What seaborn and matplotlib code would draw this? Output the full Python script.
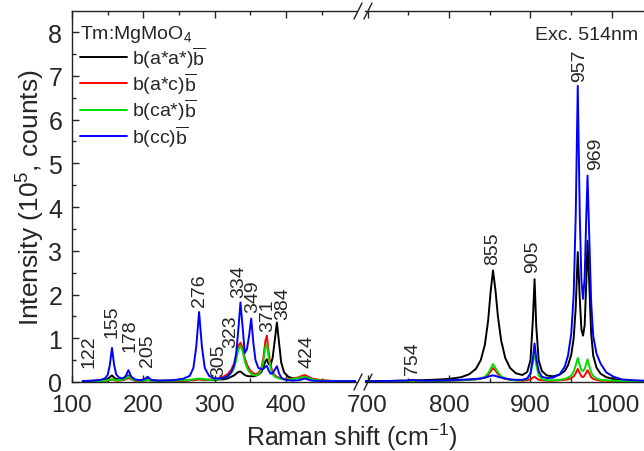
import matplotlib
matplotlib.use("Agg")
import matplotlib.pyplot as plt
import seaborn as sns
from matplotlib.lines import Line2D
from matplotlib.ticker import MultipleLocator

# Espectros Raman de Tm:MgMoO4 (intensidad en 10^5 cuentas)
# Tramo izquierdo 100-500 cm-1
x_izq = [115, 130, 140, 146, 150, 153, 156, 159, 162, 166, 171, 175, 179, 183, 188,
         195, 201, 206, 211, 220, 240, 255, 265, 270, 274, 278, 282, 286, 292, 300,
         306, 312, 318, 323, 327, 330, 333, 336, 339, 342, 345, 348, 351, 354, 357,
         361, 365, 368, 371, 373, 375, 378, 381, 384, 387, 390, 393, 397, 403, 410,
         418, 422, 426, 430, 436, 450, 470, 498]
negro_izq = [0.02, 0.03, 0.04, 0.05, 0.07, 0.11, 0.15, 0.10, 0.07, 0.06, 0.06, 0.10, 0.15, 0.09, 0.05,
             0.04, 0.05, 0.08, 0.04, 0.03, 0.03, 0.03, 0.04, 0.05, 0.06, 0.07, 0.06, 0.05, 0.05, 0.05,
             0.06, 0.06, 0.08, 0.12, 0.15, 0.19, 0.23, 0.24, 0.20, 0.16, 0.14, 0.13, 0.13, 0.13, 0.14,
             0.17, 0.22, 0.33, 0.48, 0.52, 0.42, 0.38, 0.55, 0.95, 1.36, 0.90, 0.45, 0.22, 0.12, 0.08,
             0.09, 0.11, 0.12, 0.10, 0.06, 0.03, 0.02, 0.02]
rojo_izq = [0.01, 0.02, 0.02, 0.03, 0.03, 0.04, 0.06, 0.04, 0.03, 0.03, 0.04, 0.06, 0.09, 0.06, 0.03,
            0.02, 0.03, 0.04, 0.03, 0.02, 0.03, 0.03, 0.04, 0.04, 0.05, 0.06, 0.05, 0.05, 0.05, 0.07,
            0.09, 0.12, 0.18, 0.28, 0.42, 0.60, 0.82, 0.90, 0.78, 0.55, 0.40, 0.30, 0.24, 0.20, 0.18,
            0.20, 0.30, 0.55, 0.95, 1.06, 0.75, 0.40, 0.22, 0.15, 0.12, 0.10, 0.08, 0.07, 0.07, 0.08,
            0.11, 0.14, 0.16, 0.13, 0.08, 0.04, 0.02, 0.02]
verde_izq = [0.01, 0.02, 0.02, 0.03, 0.04, 0.05, 0.07, 0.05, 0.04, 0.04, 0.05, 0.08, 0.13, 0.07, 0.04,
             0.03, 0.03, 0.05, 0.03, 0.02, 0.03, 0.04, 0.05, 0.06, 0.07, 0.08, 0.07, 0.06, 0.05, 0.06,
             0.07, 0.09, 0.13, 0.20, 0.32, 0.50, 0.74, 0.83, 0.70, 0.48, 0.33, 0.24, 0.19, 0.16, 0.15,
             0.17, 0.26, 0.48, 0.80, 0.87, 0.62, 0.33, 0.18, 0.12, 0.10, 0.08, 0.07, 0.06, 0.06, 0.07,
             0.09, 0.11, 0.12, 0.10, 0.06, 0.03, 0.02, 0.02]
azul_izq = [0.02, 0.03, 0.05, 0.08, 0.16, 0.39, 0.78, 0.39, 0.17, 0.10, 0.08, 0.13, 0.27, 0.12, 0.06,
            0.04, 0.06, 0.12, 0.05, 0.03, 0.04, 0.07, 0.14, 0.32, 0.80, 1.60, 0.80, 0.32, 0.14, 0.08,
            0.08, 0.09, 0.13, 0.22, 0.38, 0.66, 1.20, 1.82, 1.25, 0.66, 0.75, 1.05, 1.45, 0.90, 0.50,
            0.32, 0.30, 0.30, 0.35, 0.37, 0.28, 0.19, 0.20, 0.28, 0.36, 0.20, 0.10, 0.06, 0.04, 0.03,
            0.04, 0.06, 0.08, 0.06, 0.03, 0.02, 0.02, 0.02]

# Tramo derecho 700-1040 cm-1
x_der = [697, 720, 740, 748, 752, 755, 758, 765, 780, 800, 815, 825, 833, 839, 844,
         848, 851, 854, 857, 860, 864, 869, 875, 882, 890, 896, 900, 903, 905, 907,
         910, 914, 920, 928, 936, 942, 946, 950, 953, 955.5, 958, 960.5, 962.5, 964.5, 966.5,
         968.5, 970, 972, 974.5, 977, 981, 986, 993, 1002, 1012, 1025, 1039]
negro_der = [0.02, 0.02, 0.03, 0.03, 0.04, 0.04, 0.04, 0.04, 0.05, 0.07, 0.11, 0.18, 0.30, 0.50, 0.85,
             1.40, 2.05, 2.55, 2.10, 1.50, 0.95, 0.55, 0.32, 0.20, 0.16, 0.23, 0.50, 1.45, 2.35, 1.30,
             0.50, 0.25, 0.15, 0.13, 0.17, 0.25, 0.38, 0.62, 1.00, 1.70, 2.97, 1.90, 1.20, 1.06, 1.30,
             2.30, 3.23, 2.30, 1.10, 0.60, 0.33, 0.19, 0.11, 0.07, 0.04, 0.03, 0.02]
rojo_der = [0.01, 0.01, 0.02, 0.02, 0.03, 0.03, 0.03, 0.02, 0.02, 0.03, 0.04, 0.05, 0.06, 0.08, 0.10,
            0.16, 0.24, 0.32, 0.26, 0.18, 0.11, 0.07, 0.05, 0.04, 0.03, 0.04, 0.06, 0.10, 0.12, 0.09,
            0.05, 0.04, 0.03, 0.03, 0.04, 0.05, 0.06, 0.09, 0.13, 0.20, 0.30, 0.20, 0.13, 0.11, 0.15,
            0.22, 0.27, 0.20, 0.11, 0.07, 0.05, 0.03, 0.03, 0.02, 0.02, 0.01, 0.01]
verde_der = [0.01, 0.01, 0.02, 0.02, 0.03, 0.03, 0.03, 0.02, 0.02, 0.03, 0.04, 0.05, 0.06, 0.08, 0.12,
             0.20, 0.30, 0.41, 0.32, 0.22, 0.13, 0.08, 0.05, 0.04, 0.04, 0.07, 0.17, 0.45, 0.70, 0.40,
             0.15, 0.07, 0.04, 0.04, 0.05, 0.07, 0.10, 0.15, 0.24, 0.38, 0.55, 0.38, 0.27, 0.25, 0.30,
             0.42, 0.52, 0.38, 0.22, 0.14, 0.08, 0.05, 0.04, 0.03, 0.02, 0.02, 0.02]
azul_der = [0.02, 0.02, 0.03, 0.03, 0.04, 0.05, 0.04, 0.03, 0.03, 0.04, 0.05, 0.06, 0.07, 0.08, 0.10,
            0.12, 0.14, 0.15, 0.14, 0.12, 0.10, 0.08, 0.06, 0.05, 0.05, 0.08, 0.20, 0.55, 0.88, 0.55,
            0.25, 0.12, 0.09, 0.10, 0.18, 0.35, 0.60, 1.10, 2.00, 3.80, 6.77, 3.80, 2.30, 1.90, 2.40,
            3.80, 4.72, 3.40, 1.80, 1.05, 0.65, 0.42, 0.22, 0.12, 0.06, 0.04, 0.03]

etiquetas = ["b(a*a*)$\\overline{\\mathregular{b}}$", "b(a*c)$\\overline{\\mathregular{b}}$",
             "b(ca*)$\\overline{\\mathregular{b}}$", "b(cc)$\\overline{\\mathregular{b}}$"]
colores = ["#000000", "#ff0000", "#00dd00", "#0000ff"]

# Picos marcados: (texto, posicion x, altura de la base del texto)
picos_izq = ["122", "155", "178", "205", "276", "305", "323", "334", "349", "371", "384", "424"]
picos_izq_x = [124, 156, 181, 206, 279, 306, 322, 333, 353, 374, 395, 429]
picos_izq_y = [0.34, 1.03, 0.70, 0.37, 1.74, 0.14, 0.80, 1.94, 1.60, 1.17, 1.44, 0.34]
picos_der = ["754", "855", "905", "957", "969"]
picos_der_x = [755, 854, 903, 960, 980]
picos_der_y = [0.18, 2.70, 2.51, 6.88, 4.87]

sns.set_style("ticks")
plt.rcParams["font.family"] = ["Liberation Sans", "DejaVu Sans"]
plt.rcParams["mathtext.fontset"] = "custom"
plt.rcParams["mathtext.rm"] = "Liberation Sans"
plt.rcParams["mathtext.it"] = "Liberation Sans:italic"
plt.rcParams["mathtext.bf"] = "Liberation Sans:bold"

W, H = 644, 452
fig = plt.figure(figsize=(W / 100, H / 100), dpi=100)
y0, y1 = 1 - 383 / H, 1 - 12 / H
ax1 = fig.add_axes([72 / W, y0, (356 - 72) / W, y1 - y0])
ax2 = fig.add_axes([365 / W, y0, (W - 365) / W, y1 - y0], sharey=ax1)

for ys, c in zip([negro_izq, rojo_izq, verde_izq, azul_izq], colores):
    sns.lineplot(x=x_izq, y=ys, ax=ax1, color=c, lw=1.4, sort=False, estimator=None)
for ys, c in zip([negro_der, rojo_der, verde_der, azul_der], colores):
    sns.lineplot(x=x_der, y=ys, ax=ax2, color=c, lw=1.4, sort=False, estimator=None)

ax1.set_xlim(100, 497.8)
ax2.set_xlim(696.9, 1039.3)
ax1.set_ylim(0, 8.48)

for ax in (ax1, ax2):
    for s in ax.spines.values():
        s.set_linewidth(1.0)
        s.set_color("#222222")
    ax.xaxis.set_minor_locator(MultipleLocator(50))
    ax.tick_params(axis="x", which="both", direction="in", top=True, bottom=True,
                   labelsize=17.5, pad=8.5)
    ax.tick_params(which="major", length=5, width=1.0)
    ax.tick_params(which="minor", length=3, width=1.0)
ax1.set_xticks([100, 200, 300, 400])
ax2.set_xticks([700, 800, 900, 1000])
ax1.yaxis.set_major_locator(MultipleLocator(1))
ax1.yaxis.set_minor_locator(MultipleLocator(0.5))
ax1.tick_params(axis="y", which="both", direction="in", left=True, right=False,
                labelsize=18, pad=7)
ax1.spines["right"].set_visible(False)
ax2.spines["left"].set_visible(False)
ax2.spines["right"].set_visible(False)
ax2.tick_params(axis="y", which="both", left=False, right=False, labelleft=False)

ax1.set_ylabel("Intensity (10$^{5}$, counts)", fontsize=19, labelpad=1)
ax1.set_xlabel("")
ax2.set_xlabel("")
fig.text(352 / W, 1 - 437 / H, "Raman shift (cm$^{-1}$)", fontsize=18,
         ha="center", va="center")

for t, x, y in zip(picos_izq, picos_izq_x, picos_izq_y):
    ax1.text(x, y, t, rotation=90, ha="center", va="bottom", fontsize=14)
for t, x, y in zip(picos_der, picos_der_x, picos_der_y):
    ax2.text(x, y, t, rotation=90, ha="center", va="bottom", fontsize=14)

fig.text(638 / W, 1 - 36 / H, "Exc. 514nm", fontsize=14, ha="right", va="center")

# Leyenda
lineas = ax1.get_lines()[:4]
leg = ax1.legend(lineas, etiquetas, title="Tm:MgMoO$_4$", loc="upper left",
                 bbox_to_anchor=(0.028, 0.968), frameon=False, fontsize=14,
                 title_fontsize=14, handlelength=2.4, handletextpad=0.3,
                 labelspacing=0.02, borderpad=0, borderaxespad=0, alignment="left")
for h in leg.get_lines():
    h.set_linewidth(1.4)

# Marcas de corte del eje
for yb in (12, 383):
    for xa in (354, 364):
        fig.add_artist(Line2D([xa / W, (xa + 8) / W], [1 - (yb + 8) / H, 1 - (yb - 8) / H],
                              color="#222222", lw=1.0))

fig.savefig("out.png", dpi=100)
